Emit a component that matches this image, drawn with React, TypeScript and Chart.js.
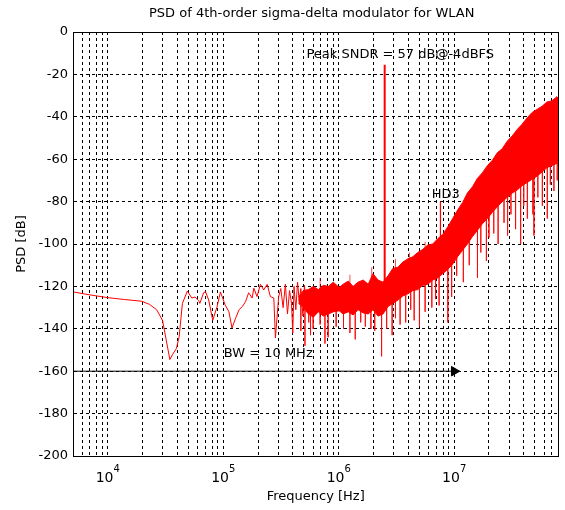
import React, { useEffect, useRef } from "react";
import { Chart, registerables } from "chart.js";

Chart.register(...registerables);

// ---------------- text ----------------
const titleText = "PSD of 4th-order sigma-delta modulator for WLAN";
const xAxisTitle = "Frequency [Hz]";
const yAxisTitle = "PSD [dB]";

// ---------------- axes ----------------
const xMin = 5000;
const xMax = 8e7;
const yMin = -200;
const yMax = 0;
const yStep = 20;
const xTickDecades = [1e4, 1e5, 1e6, 1e7];
const xTickExponents = ["4", "5", "6", "7"];

// ---------------- low-frequency trace (thin line) ----------------
const lowFreq = [5000, 7000, 10000, 14000, 19700, 23000, 26500, 29800, 32000, 34500, 36500, 39300, 41500, 44300, 48900, 53400, 57000, 61300, 62700, 67600, 70200, 74800, 81100, 88400, 94500, 104000, 112000, 119000, 128000, 137000, 146000, 156000, 166000, 178000, 184000, 196000, 210000, 224000, 240000, 256000, 274000, 283000, 302000, 315000, 330000, 345000, 360000, 375000, 390000, 400000, 410000, 425000, 440000, 455000, 470000, 490000, 505000, 525000, 545000];
const lowDb = [-122.6, -124.0, -125.3, -126.2, -127.0, -128.5, -131.0, -136.0, -145.0, -154.5, -152.0, -149.3, -143.8, -128.0, -122.2, -125.5, -125.0, -126.7, -128.0, -123.0, -122.5, -126.4, -136.0, -129.6, -122.6, -128.8, -132.0, -139.6, -135.0, -131.0, -129.6, -127.2, -123.0, -125.5, -120.8, -124.8, -119.0, -121.7, -119.0, -124.8, -125.5, -144.3, -124.8, -121.0, -130.0, -119.0, -133.0, -122.0, -128.0, -142.0, -120.0, -131.0, -118.0, -127.0, -121.0, -134.0, -119.5, -130.0, -122.0];

// ---------------- dense noise band ----------------
const bandFreq = [448000, 494000, 546000, 603000, 666000, 736000, 813000, 897000, 1010000, 1090000, 1210000, 1330000, 1470000, 1630000, 1800000, 1980000, 2190000, 2420000, 2670000, 2940000, 3250000, 3590000, 3970000, 4380000, 4840000, 5350000, 5900000, 6520000, 7200000, 7950000, 8780000, 9690000, 10700000, 11800000, 13000000, 14400000, 15900000, 17500000, 19400000, 21400000, 23600000, 26100000, 28800000, 31800000, 35100000, 38700000, 42800000, 47200000, 52100000, 57700000, 63500000, 70100000, 77400000, 80000000];
const bandUpperDb = [-125, -122, -121.5, -120, -121.5, -119.5, -120, -118, -120.5, -119, -117.5, -120, -118, -117, -119, -114, -117, -118, -115, -111.5, -111, -108.5, -107, -106, -104, -102.5, -100.5, -100, -97.5, -95.5, -92, -88, -84, -80.5, -76, -73, -69, -66.5, -63, -60.5, -57, -55, -51.5, -49, -46, -43.5, -40.5, -38, -36.5, -35, -33, -32.5, -30.5, -31.5];
const bandLowerDb = [-128, -130, -133, -134.5, -132, -134, -133, -132, -131.5, -133, -132, -133.5, -131, -132.5, -133, -131, -134, -133, -129.5, -128, -126.5, -124.5, -123.5, -122, -121.5, -119.5, -119, -117, -116, -114, -112, -109.5, -106, -103, -100, -96.5, -93.5, -90.5, -88, -85, -82.5, -80, -78, -76, -74.5, -72.5, -71, -69.5, -68, -66, -64, -63, -62, -62];

// ---------------- narrow noise spikes (start -> end) ----------------
const spikeFreq = [470000, 510000, 550000, 570000, 600000, 690000, 690000, 760000, 810000, 950000, 1100000, 1250000, 1250000, 1390000, 1550000, 1700000, 1900000, 1930000, 2050000, 2350000, 2600000, 2900000, 3100000, 3100000, 3400000, 3800000, 4100000, 4200000, 4500000, 5000000, 5600000, 5600000, 6400000, 6900000, 7400000, 8800000, 9500000, 10500000, 12000000, 13500000, 15900000, 17000000, 19000000, 20000000, 22000000, 24000000, 27000000, 29000000, 31000000, 34000000, 37600000, 40000000, 43000000, 48000000, 49000000, 53000000, 58000000, 64000000, 68000000, 73000000, 78000000];
const spikeFromDb = [-128, -130, -131, -131, -131, -131, -122, -131, -130, -130, -130, -131, -120, -130, -130, -130, -130, -121, -130, -130, -128, -125, -126, -112, -123, -122, -110, -121, -120, -118, -117, -104, -115, -115, -114, -110, -107, -104, -100, -97, -91, -89, -86, -85, -82, -80, -78, -76, -75, -73, -71, -70, -69, -67, -67, -66, -64, -62, -61, -60, -60];
const spikeToDb = [-141, -148, -137, -143, -140, -138, -116, -147, -144, -139, -140, -142, -114.5, -145, -137, -139, -140, -111, -141, -153, -140, -143, -135, -107, -138, -137, -104, -131, -136, -139, -132, -99, -130, -126, -129, -137, -125, -115, -118, -110, -116, -104, -108, -97, -95, -100, -90, -96, -86, -93, -100, -82, -88, -86, -96, -78, -82, -88, -72, -75, -70];

// ---------------- tones ----------------
const signalFreq = [2.5e6, 2.5e6];
const signalDb = [-125, -15.5];
const hd3Freq = [7.6e6, 7.6e6];
const hd3Db = [-97, -80];

// ---------------- bandwidth arrow ----------------
const bwFreq = [5000, 1e7];
const bwDb = [-160, -160];

// ---------------- annotations ----------------
const annotationTexts = ["Peak SNDR = 57 dB@-4dBFS", "HD3", "BW = 10 MHz"];
const annotationFreq = [5.25e5, 6.38e6, 1.01e5];
const annotationDb = [-10.8, -76.9, -151.5];

const FONT = '"DejaVu Sans", "Liberation Sans", Arial, sans-serif';
const RED = "#ff0000";

const pts = (xs: number[], ys: number[]) => xs.map((x, i) => ({ x, y: ys[i] }));

const overlayPlugin = {
  id: "overlay",
  afterDraw(chart: any) {
    const { ctx, chartArea: a, scales } = chart;
    const xs = scales.x;
    const ys = scales.y;
    ctx.save();
    const al = (v: number) => Math.round(v - 0.5) + 0.5;
    ctx.setLineDash([]);
    ctx.strokeStyle = "#000";
    ctx.lineWidth = 1;
    ctx.beginPath();
    ctx.rect(al(a.left), al(a.top), al(a.right) - al(a.left), al(a.bottom) - al(a.top));
    ctx.stroke();

    ctx.fillStyle = "#000";
    ctx.font = `13px ${FONT}`;
    ctx.textAlign = "center";
    ctx.textBaseline = "middle";
    ctx.fillText(titleText, (a.left + a.right) / 2 - 4, 14);

    ctx.textAlign = "left";
    ctx.textBaseline = "alphabetic";
    xTickDecades.forEach((v, i) => {
      const px = xs.getPixelForValue(v);
      ctx.font = `14px ${FONT}`;
      const w1 = ctx.measureText("10").width;
      ctx.font = `10px ${FONT}`;
      const w2 = ctx.measureText(xTickExponents[i]).width;
      const start = px - (w1 + w2) / 2;
      ctx.font = `14px ${FONT}`;
      ctx.fillText("10", start, a.bottom + 26);
      ctx.font = `10px ${FONT}`;
      ctx.fillText(xTickExponents[i], start + w1, a.bottom + 16);
    });

    ctx.font = `13px ${FONT}`;
    ctx.textAlign = "left";
    ctx.textBaseline = "middle";
    annotationTexts.forEach((t, i) => {
      ctx.fillText(t, xs.getPixelForValue(annotationFreq[i]), ys.getPixelForValue(annotationDb[i]));
    });
    ctx.restore();
  },
};

export default function App() {
  const ref = useRef<HTMLCanvasElement | null>(null);
  useEffect(() => {
    if (!ref.current) return;
    const spikeData: any[] = [];
    spikeFreq.forEach((f, i) => {
      spikeData.push({ x: f, y: spikeFromDb[i] });
      spikeData.push({ x: f, y: spikeToDb[i] });
      spikeData.push({ x: f, y: null });
    });
    const chart = new Chart(ref.current, {
      type: "line",
      data: {
        datasets: [
          { label: "signal", data: pts(signalFreq, signalDb), borderColor: RED, borderWidth: 2, pointRadius: 0, fill: false },
          { label: "hd3", data: pts(hd3Freq, hd3Db), borderColor: RED, borderWidth: 1.2, pointRadius: 0, fill: false },
          { label: "bandUpper", data: pts(bandFreq, bandUpperDb), borderColor: RED, borderWidth: 1, pointRadius: 0, fill: false },
          { label: "bandLower", data: pts(bandFreq, bandLowerDb), borderColor: RED, backgroundColor: RED, borderWidth: 1, pointRadius: 0, fill: "-1" },
          { label: "spikes", data: spikeData, borderColor: "rgba(255,0,0,0.7)", borderWidth: 1, pointRadius: 0, fill: false, spanGaps: false },
          { label: "low", data: pts(lowFreq, lowDb), borderColor: RED, borderWidth: 1, pointRadius: 0, fill: false },
          {
            label: "bw",
            data: pts(bwFreq, bwDb),
            borderColor: "#000",
            borderWidth: 1,
            pointRadius: [0, 5.5],
            pointStyle: "triangle",
            rotation: 90,
            pointBackgroundColor: "#000",
            pointBorderColor: "#000",
            fill: false,
          } as any,
        ],
      },
      options: {
        animation: false,
        responsive: false,
        events: [],
        layout: { padding: { top: 32, right: 2, left: 0, bottom: 0 } },
        plugins: {
          legend: { display: false },
          tooltip: { enabled: false },
          title: { display: false },
        },
        scales: {
          x: {
            type: "logarithmic",
            min: xMin,
            max: xMax,
            afterBuildTicks: (scale: any) => {
              scale.ticks = scale.ticks.filter((t: any) => {
                const m = t.value / Math.pow(10, Math.floor(Math.log10(t.value) + 1e-9));
                return Math.abs(m - Math.round(m)) < 1e-6;
              });
            },
            afterFit: (scale: any) => {
              scale.height = 54;
            },
            ticks: { display: false, autoSkip: false },
            grid: { color: "#000", lineWidth: 1, drawTicks: false },
            border: { display: true, color: "#000", width: 1, dash: [3, 3] },
            title: {
              display: true,
              text: xAxisTitle,
              color: "#000",
              font: { family: FONT, size: 13 },
              padding: { top: 0, bottom: 6 },
            },
          },
          y: {
            type: "linear",
            min: yMin,
            max: yMax,
            afterFit: (scale: any) => {
              scale.width = 73;
            },
            ticks: {
              stepSize: yStep,
              color: "#000",
              padding: 5,
              font: { family: FONT, size: 13 },
              callback: (v: any) => String(v),
            },
            grid: { color: "#000", lineWidth: 1, drawTicks: false },
            border: { display: true, color: "#000", width: 1, dash: [3, 3] },
            title: {
              display: true,
              text: yAxisTitle,
              color: "#000",
              font: { family: FONT, size: 13 },
              padding: { top: 14, bottom: 0 },
            },
          },
        },
      },
      plugins: [overlayPlugin],
    } as any);
    return () => chart.destroy();
  }, []);
  return (
    <div style={{ position: "absolute", left: 0, top: 0, width: 565, height: 510, background: "#fff" }}>
      <canvas ref={ref} width={565} height={510} style={{ display: "block" }} />
    </div>
  );
}
